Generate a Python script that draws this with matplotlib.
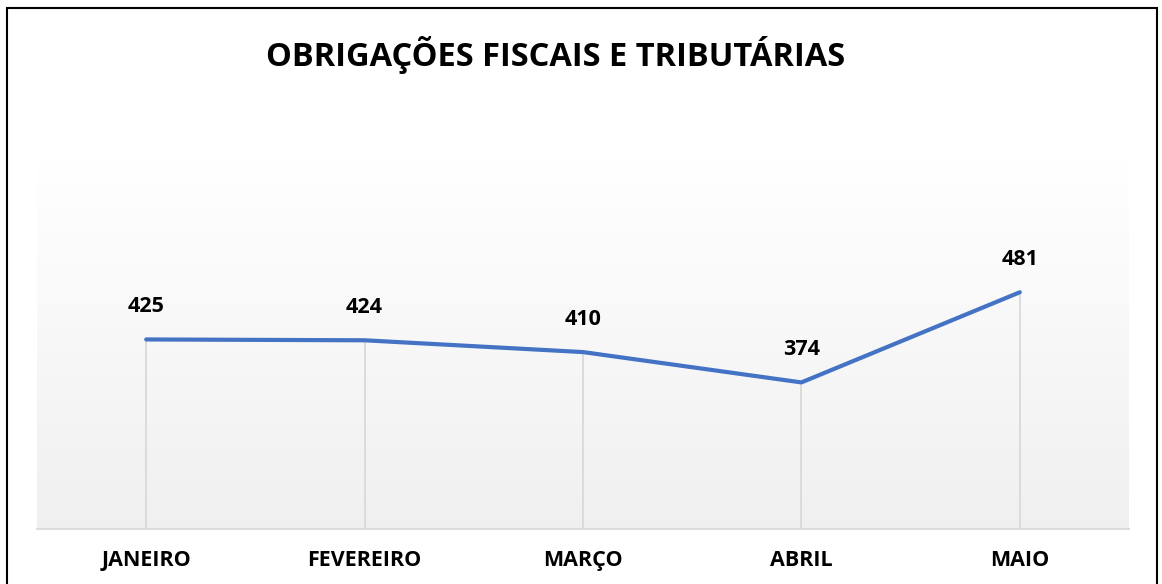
import matplotlib
matplotlib.use("Agg")
import matplotlib.pyplot as plt
import numpy as np
from matplotlib.patches import Rectangle

categories = ["JANEIRO", "FEVEREIRO", "MARÇO", "ABRIL", "MAIO"]
values = [425, 424, 410, 374, 481]
title = "OBRIGAÇÕES FISCAIS E TRIBUTÁRIAS"

plt.rcParams['font.family'] = ['Open Sans', 'DejaVu Sans']

W, H = 1162, 584
fig = plt.figure(figsize=(W/100, H/100), dpi=100)
fig.patch.set_facecolor('white')

# plot area in pixel coords: x 37..1129, y 160..529
left, right, top, bottom = 37, 1129, 160, 529
ax = fig.add_axes([left/W, 1-bottom/H, (right-left)/W, (bottom-top)/H])

ymin, ymax = 200, 638
x = np.arange(len(categories))
ax.set_xlim(-0.5, len(categories)-0.5)
ax.set_ylim(ymin, ymax)

# gradient background
grad = np.linspace(1.0, 0.94, 256).reshape(-1, 1)
ax.imshow(np.dstack([grad, grad, grad]), extent=[-0.5, len(categories)-0.5, ymin, ymax],
          aspect='auto', origin='upper', zorder=0)

# drop lines
ax.vlines(x, ymin, values, colors='#D9D9D9', linewidth=1.3, zorder=1)
ax.plot(x, values, color='#4472C4', linewidth=3.0, solid_capstyle='round', zorder=3)

for xi, v in zip(x, values):
    ax.annotate(str(v), (xi, v), xytext=(0, 33), textcoords='offset pixels',
                ha='center', va='center', fontsize=15.5, fontweight='bold', color='black')

for s in ['left', 'right', 'top']:
    ax.spines[s].set_visible(False)
ax.spines['bottom'].set_color('#D9D9D9')
ax.spines['bottom'].set_linewidth(1.3)
ax.set_yticks([])
ax.set_xticks(x)
ax.set_xticklabels(categories, fontsize=15.5, fontweight='bold')
ax.tick_params(axis='x', length=0, pad=15)

fig.text(556/W, 1-55/H, title, ha='center', va='center', fontsize=23.5, fontweight='bold')

# outer border
fig.patches.append(Rectangle((7/W, -0.05), (1157-7)/W, 1-8/H+0.05, transform=fig.transFigure,
                             fill=False, edgecolor='black', linewidth=1.5))

fig.savefig('out.png', dpi=100)
